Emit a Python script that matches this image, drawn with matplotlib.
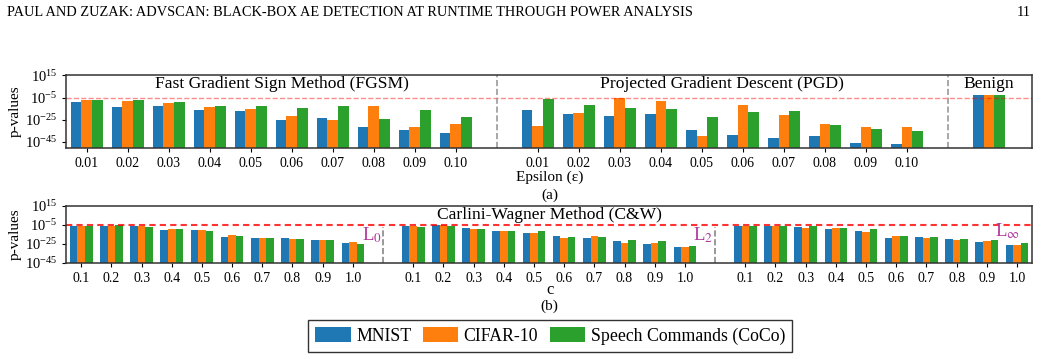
import numpy as np
import matplotlib
matplotlib.use("Agg")
import matplotlib.pyplot as plt

plt.rcParams['font.family'] = ['Liberation Serif', 'DejaVu Serif']
plt.rcParams['mathtext.fontset'] = 'stix'

# p-values stored as log10 exponents
eps_labels = ['0.01', '0.02', '0.03', '0.04', '0.05', '0.06', '0.07', '0.08', '0.09', '0.10']
c_labels = ['0.1', '0.2', '0.3', '0.4', '0.5', '0.6', '0.7', '0.8', '0.9', '1.0']
datasets = ['MNIST', 'CIFAR-10', 'Speech Commands (CoCo)']
colors = ['#1f77b4', '#ff7f0e', '#2ca02c']

fgsm_mnist = [-8.6, -13.4, -12.2, -16.6, -17.5, -25.6, -23.8, -31.9, -34.6, -37.2]
fgsm_cifar = [-6.8, -7.7, -9.5, -13.4, -15.7, -22.0, -25.0, -12.2, -31.9, -29.2]
fgsm_coco = [-6.8, -6.8, -8.6, -12.2, -12.2, -14.0, -12.2, -24.1, -16.6, -22.9]

pgd_mnist = [-16.6, -20.2, -22.0, -20.2, -34.6, -39.0, -41.7, -39.9, -46.2, -47.1]
pgd_cifar = [-31.0, -19.0, -5.0, -7.7, -39.9, -11.3, -21.1, -29.2, -31.9, -31.9]
pgd_coco = [-5.9, -11.3, -14.0, -15.7, -22.9, -18.4, -17.5, -30.1, -33.7, -35.4]

benign = [-2.6, -2.6, -2.6]

cw_l0_mnist = [-6.1, -6.4, -6.4, -10.6, -10.6, -18.0, -19.0, -19.0, -21.1, -24.3]
cw_l0_cifar = [-6.1, -6.1, -6.1, -9.6, -10.6, -15.9, -19.0, -20.1, -21.1, -23.2]
cw_l0_coco = [-6.4, -5.4, -7.5, -9.6, -11.7, -16.9, -19.0, -20.1, -21.1, -25.4]

cw_l2_mnist = [-6.4, -5.4, -8.5, -11.7, -13.8, -16.9, -19.0, -22.2, -25.4, -28.5]
cw_l2_cifar = [-6.4, -5.4, -9.6, -11.7, -13.8, -19.0, -16.9, -24.3, -24.3, -28.5]
cw_l2_coco = [-7.5, -6.4, -9.6, -11.7, -11.7, -18.0, -18.0, -21.1, -22.2, -27.5]

cw_linf_mnist = [-6.4, -6.4, -7.5, -9.6, -11.7, -19.0, -18.0, -20.1, -23.2, -26.4]
cw_linf_cifar = [-6.4, -6.4, -8.5, -8.5, -12.7, -16.9, -19.0, -21.1, -22.2, -26.4]
cw_linf_coco = [-6.4, -6.4, -6.4, -8.5, -9.6, -16.9, -18.0, -20.1, -21.1, -24.3]

threshold = 1e-5


def main():
    fig = plt.figure(figsize=(10.41, 3.59), dpi=100)
    ax1 = fig.add_axes([0.0635, 0.5877, 0.9279, 0.2034])
    ax2 = fig.add_axes([0.0635, 0.2682, 0.9279, 0.1588])

    # ---- panel (a): FGSM / PGD / Benign ----
    w = 0.26
    x_fgsm = np.arange(10)
    x_pgd = np.arange(10) + 11
    x_ben = np.array([22])
    groups = [
        (x_fgsm, [fgsm_mnist, fgsm_cifar, fgsm_coco]),
        (x_pgd, [pgd_mnist, pgd_cifar, pgd_coco]),
        (x_ben, [[benign[0]], [benign[1]], [benign[2]]]),
    ]
    for xs, series in groups:
        for k, vals in enumerate(series):
            ax1.bar(xs + (k - 1) * w, 10.0 ** np.array(vals), w, bottom=1e-60,
                    color=colors[k], label=datasets[k] if xs is x_fgsm else None)
    ax1.set_yscale('log')
    ax1.set_ylim(10 ** -50.4, 10 ** 15.3)
    ax1.set_xlim(-0.5, 23.05)
    ax1.set_yticks([1e15, 1e-5, 1e-25, 1e-45])
    ax1.minorticks_off()
    ax1.set_xticks(np.concatenate([x_fgsm, x_pgd]))
    ax1.set_xticklabels(eps_labels + eps_labels, fontsize=10)
    ax1.tick_params(axis='y', labelsize=10.5, length=3)
    ax1.tick_params(axis='x', length=3)
    ax1.axhline(threshold, color='red', alpha=0.45, ls='--', lw=1)
    for s in [10, 21]:
        ax1.axvline(s, color='#999999', ls='--', lw=1.2)
    ax1.text(4.75, 10 ** 6.9, 'Fast Gradient Sign Method (FGSM)', ha='center', va='center', fontsize=12.6)
    ax1.text(15.5, 10 ** 6.9, 'Projected Gradient Descent (PGD)', ha='center', va='center', fontsize=12.6)
    ax1.text(22, 10 ** 6.9, 'Benign', ha='center', va='center', fontsize=12.6)
    ax1.set_ylabel('p-values', fontsize=11, labelpad=2)

    # ---- panel (b): Carlini-Wagner ----
    w2 = 0.25
    cw_groups = [
        (np.arange(10), [cw_l0_mnist, cw_l0_cifar, cw_l0_coco]),
        (np.arange(10) + 11, [cw_l2_mnist, cw_l2_cifar, cw_l2_coco]),
        (np.arange(10) + 22, [cw_linf_mnist, cw_linf_cifar, cw_linf_coco]),
    ]
    ticks2 = []
    for xs, series in cw_groups:
        ticks2.extend(xs)
        for k, vals in enumerate(series):
            ax2.bar(xs + (k - 1) * w2, 10.0 ** np.array(vals), w2, bottom=1e-60, color=colors[k])
    ax2.set_yscale('log')
    ax2.set_ylim(1e-45, 1e15)
    ax2.set_xlim(-0.5, 31.5)
    ax2.set_yticks([1e15, 1e-5, 1e-25, 1e-45])
    ax2.minorticks_off()
    ax2.set_xticks(ticks2)
    ax2.set_xticklabels(c_labels * 3, fontsize=10)
    ax2.tick_params(axis='y', labelsize=10.5, length=3)
    ax2.tick_params(axis='x', length=3)
    ax2.axhline(threshold, color='red', alpha=0.8, ls=(0, (3, 2)), lw=1.5)
    for s in [10, 21]:
        ax2.axvline(s, ymax=0.63, color='#888888', ls='--', lw=1.2)
    ax2.text(15.5, 10 ** 5.2, 'Carlini-Wagner Method (C&W)', ha='center', va='center', fontsize=12.6)
    lcol = '#b0369c'
    ax2.text(9.65, 10 ** -16, r'L$_0$', ha='center', va='center', fontsize=13.5, color=lcol)
    ax2.text(20.6, 10 ** -16, r'L$_2$', ha='center', va='center', fontsize=13.5, color=lcol)
    ax2.text(30.7, 10 ** -12, r'L$_\infty$', ha='center', va='center', fontsize=13.5, color=lcol)
    ax2.set_ylabel('p-values', fontsize=11, labelpad=2)

    for ax in (ax1, ax2):
        for sp in ax.spines.values():
            sp.set_color('#333333')
            sp.set_linewidth(1.1)

    # sub-captions and axis labels
    fig.text(0.528, 1 - 177 / 359, 'Epsilon (\u03b5)', ha='center', va='center', fontsize=11)
    fig.text(0.528, 1 - 195 / 359, '(a)', ha='center', va='center', fontsize=11)
    fig.text(0.528, 1 - 290 / 359, 'c', ha='center', va='center', fontsize=12)
    fig.text(0.528, 1 - 306 / 359, '(b)', ha='center', va='center', fontsize=11)

    # page header
    fig.text(7 / 1041, 1 - 12 / 359,
             'PAUL AND ZUZAK: ADVSCAN: BLACK-BOX AE DETECTION AT RUNTIME THROUGH POWER ANALYSIS',
             ha='left', va='center', fontsize=10.4)
    fig.text(1031 / 1041, 1 - 12 / 359, '11', ha='right', va='center', fontsize=10.4)

    handles, labels = ax1.get_legend_handles_labels()
    leg = fig.legend(handles, labels, loc='center', bbox_to_anchor=(550 / 1041, 1 - 336 / 359),
                     ncol=3, fontsize=12.8, frameon=True, fancybox=False, edgecolor='black',
                     handlelength=2.0, handleheight=0.9, handletextpad=0.3, columnspacing=0.65,
                     borderpad=0.4)
    leg.get_frame().set_linewidth(1.0)

    fig.savefig('out.png', dpi=100)
    plt.close(fig)


if __name__ == "__main__":
    main()
